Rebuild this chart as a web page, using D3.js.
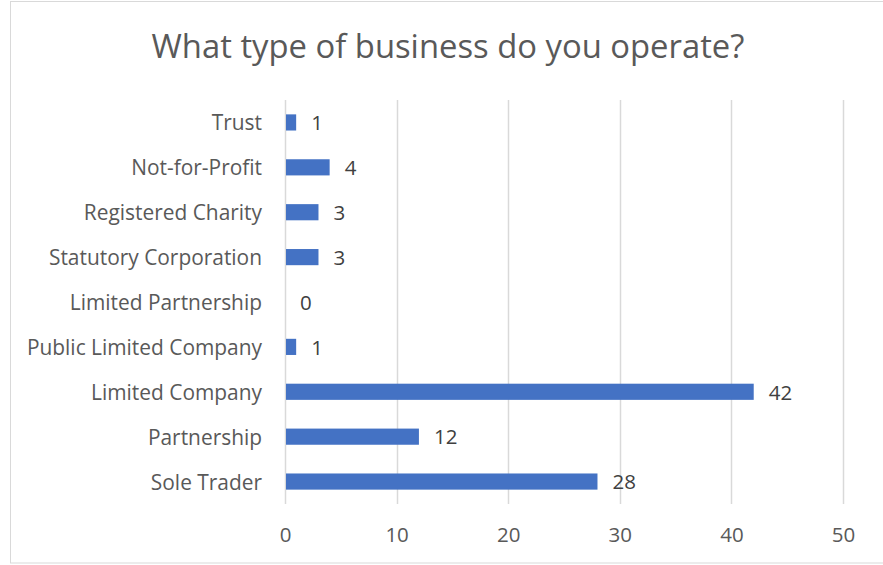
<!DOCTYPE html>
<html>
<head>
<meta charset="utf-8">
<script src="https://cdn.jsdelivr.net/npm/d3@7"></script>
<style>
  html, body { margin: 0; padding: 0; background: #fff; }
  svg { display: block; font-family: "Open Sans", "Noto Sans", sans-serif; }
</style>
</head>
<body>
<svg id="chart" width="883" height="565"></svg>
<script>
// Business types, top to bottom as listed
const categories = [
  "Trust",
  "Not-for-Profit",
  "Registered Charity",
  "Statutory Corporation",
  "Limited Partnership",
  "Public Limited Company",
  "Limited Company",
  "Partnership",
  "Sole Trader"
];
const counts = [1, 4, 3, 3, 0, 1, 42, 12, 28];
const xTicks = [0, 10, 20, 30, 40, 50];
const title = "What type of business do you operate?";

const svg = d3.select("#chart");
const plot = { left: 285, right: 843, top: 100, bottom: 504 };
const FONT = "\"Open Sans\", \"Noto Sans\", sans-serif";

// Chart frame (runs past the right edge)
svg.append("rect")
  .attr("x", 10.5).attr("y", 1.5)
  .attr("width", 900).attr("height", 561.5)
  .attr("fill", "#fff")
  .attr("stroke", "#d9d9d9")
  .attr("stroke-width", 1);

// Title
svg.append("text")
  .attr("x", 448).attr("y", 58)
  .attr("text-anchor", "middle")
  .attr("font-size", 32.8)
  .attr("fill", "#595959")
  .text(title);

const x = d3.scaleLinear().domain([0, 50]).range([plot.left, plot.right]);
const y = d3.scaleBand().domain(categories).range([plot.top, plot.bottom]).paddingInner(0.64).paddingOuter(0.32);

// Vertical gridlines
svg.append("g")
  .selectAll("line")
  .data(xTicks)
  .join("line")
  .attr("x1", d => Math.round(x(d)) + 0.5)
  .attr("x2", d => Math.round(x(d)) + 0.5)
  .attr("y1", plot.top)
  .attr("y2", plot.bottom)
  .attr("stroke", "#d9d9d9")
  .attr("stroke-width", 1.5);

// Bottom axis labels
const xAxis = svg.append("g")
  .attr("transform", `translate(0,${plot.bottom})`)
  .call(d3.axisBottom(x).tickValues(xTicks).tickSize(0).tickPadding(23));
xAxis.select(".domain").remove();
xAxis.selectAll("text")
  .attr("font-size", 20.5)
  .attr("font-family", FONT)
  .attr("fill", "#595959");

// Left category labels
const yAxis = svg.append("g")
  .attr("transform", `translate(${plot.left},0)`)
  .call(d3.axisLeft(y).tickSize(0).tickPadding(23));
yAxis.select(".domain").remove();
yAxis.selectAll("text")
  .attr("font-size", 20.9)
  .attr("font-family", FONT)
  .attr("fill", "#595959")
  .attr("dy", "0.38em");

// Bars
const rows = categories.map((c, i) => ({ cat: c, value: counts[i] }));
svg.append("g")
  .selectAll("rect")
  .data(rows)
  .join("rect")
  .attr("x", x(0) + 1)
  .attr("y", d => y(d.cat))
  .attr("width", d => Math.max(0, x(d.value) - x(0) - 1))
  .attr("height", y.bandwidth())
  .attr("fill", "#4472c4");

// Value labels
svg.append("g")
  .selectAll("text")
  .data(rows)
  .join("text")
  .attr("x", d => x(d.value) + 15)
  .attr("y", d => y(d.cat) + y.bandwidth() / 2)
  .attr("dy", "0.38em")
  .attr("font-size", 20.5)
  .attr("fill", "#404040")
  .text(d => d.value);
</script>
</body>
</html>
